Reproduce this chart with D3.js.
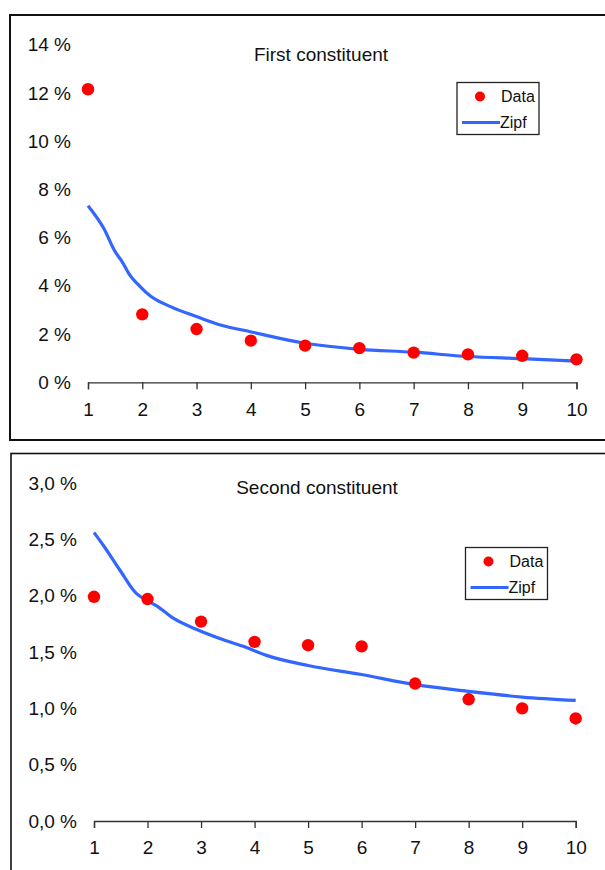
<!DOCTYPE html>
<html lang="en">
<head>
    <meta charset="UTF-8">
    <title>Zipf constituents</title>
    <script src="https://cdn.jsdelivr.net/npm/d3@7/dist/d3.min.js"></script>
    <style>
        body { margin: 0; background: #fff; }
        text { font-family: "Liberation Sans", Arial, sans-serif; fill: #111; }
    </style>
</head>
<body>
    <svg width="605" height="870" id="mainsvg"></svg>
    <script>
        // ranks on the x axis
        const ranks = [1, 2, 3, 4, 5, 6, 7, 8, 9, 10];

        // first constituent (%)
        const firstData = [12.16, 2.82, 2.21, 1.73, 1.52, 1.42, 1.23, 1.16, 1.10, 0.95];
        const firstZipfX = [1, 1.29, 1.5, 1.63, 1.75, 1.96, 2.15, 2.52, 3.01, 3.44, 3.99, 5, 6, 7, 8, 9, 10];
        const firstZipfY = [7.33, 6.39, 5.42, 5.00, 4.52, 3.97, 3.58, 3.14, 2.72, 2.38, 2.10, 1.62, 1.37, 1.25, 1.07, 0.98, 0.88];
        const firstYTicks = [0, 2, 4, 6, 8, 10, 12, 14];

        // second constituent (%)
        const secondData = [1.99, 1.97, 1.77, 1.59, 1.56, 1.55, 1.22, 1.08, 1.00, 0.91];
        const secondZipfX = [1, 1.17, 1.48, 1.79, 1.98, 2.17, 2.48, 2.92, 3.35, 3.79, 4.22, 5, 6, 7, 8, 9, 10];
        const secondZipfY = [2.56, 2.45, 2.23, 2.02, 1.96, 1.91, 1.80, 1.70, 1.62, 1.55, 1.47, 1.38, 1.30, 1.21, 1.15, 1.10, 1.07];
        const secondYTicks = [0, 0.5, 1, 1.5, 2, 2.5, 3];

        const svg = d3.select('#mainsvg');
        const red = '#ff0000';
        const blue = '#3366ff';

        function drawPanel(opt) {
            const g = svg.append('g');

            // frame (right and bottom edges run off the picture)
            g.append('rect')
                .attr('x', opt.frame[0]).attr('y', opt.frame[1])
                .attr('width', opt.frame[2]).attr('height', opt.frame[3])
                .attr('fill', 'none')
                .attr('stroke', '#111')
                .attr('stroke-width', opt.frameWidth);

            const x = d3.scaleLinear().domain([1, 10]).range(opt.xRange);
            const y = d3.scaleLinear().domain(opt.yDomain).range(opt.yRange);

            // x axis
            const xAxis = g.append('g')
                .attr('transform', `translate(0,${opt.yRange[0]})`)
                .call(d3.axisBottom(x).tickValues(ranks).tickSize(7).tickPadding(13).tickFormat(d3.format('d')));
            xAxis.select('.domain').attr('stroke', '#333').attr('stroke-width', 1.3);
            xAxis.selectAll('.tick line').attr('stroke', '#333').attr('stroke-width', 1.3);
            xAxis.selectAll('text')
                .attr('font-size', 19)
                .attr('font-family', '"Liberation Sans", Arial, sans-serif')
                .attr('fill', '#111');

            // y labels only, no axis line
            const yAxis = g.append('g')
                .attr('transform', `translate(${opt.yLabelX},0)`)
                .call(d3.axisLeft(y).tickValues(opt.yTicks).tickSize(0).tickPadding(0).tickFormat(opt.fmt));
            yAxis.select('.domain').remove();
            yAxis.selectAll('text')
                .attr('font-size', 19)
                .attr('font-family', '"Liberation Sans", Arial, sans-serif')
                .attr('fill', '#111');

            // title
            g.append('text')
                .attr('x', opt.title[1]).attr('y', opt.title[2])
                .attr('text-anchor', 'middle')
                .attr('dy', '0.35em')
                .attr('font-size', 19)
                .text(opt.title[0]);

            // zipf curve
            const line = d3.line()
                .x((d, i) => x(opt.zipfX[i]))
                .y(d => y(d))
                .curve(d3.curveMonotoneX);
            g.append('path')
                .datum(opt.zipfY)
                .attr('d', line)
                .attr('fill', 'none')
                .attr('stroke', blue)
                .attr('stroke-width', 3.2)
                .attr('stroke-linejoin', 'round');

            // data points
            g.selectAll('circle.pt').data(opt.data).join('circle')
                .attr('class', 'pt')
                .attr('cx', (d, i) => x(ranks[i]))
                .attr('cy', d => y(d))
                .attr('r', 6.2)
                .attr('fill', red);

            // legend
            const [lx, ly] = opt.legend;
            const lg = g.append('g').attr('transform', `translate(${lx},${ly})`);
            lg.append('rect')
                .attr('width', 82).attr('height', 52)
                .attr('fill', '#fff')
                .attr('stroke', '#222').attr('stroke-width', 1.3);
            lg.append('circle').attr('cx', 23).attr('cy', 14).attr('r', 5).attr('fill', red);
            lg.append('text').attr('x', 44).attr('y', 14).attr('dy', '0.35em')
                .attr('font-size', 16).text('Data');
            lg.append('line')
                .attr('x1', 5).attr('x2', 43)
                .attr('y1', 40).attr('y2', 40)
                .attr('stroke', blue).attr('stroke-width', 3.2);
            lg.append('text').attr('x', 43).attr('y', 40).attr('dy', '0.35em')
                .attr('font-size', 16).text('Zipf');
        }

        drawPanel({
            frame: [10, 15, 640, 425],
            frameWidth: 2,
            xRange: [88, 576.5],
            yDomain: [0, 14],
            yRange: [382.3, 44.9],
            yTicks: firstYTicks,
            yLabelX: 71,
            fmt: d => d + ' %',
            title: ['First constituent', 321, 54],
            zipfX: firstZipfX,
            zipfY: firstZipfY,
            data: firstData,
            legend: [457, 82.5]
        });

        drawPanel({
            frame: [11, 453.5, 640, 500],
            frameWidth: 1.6,
            xRange: [94, 575.7],
            yDomain: [0, 3],
            yRange: [821, 483],
            yTicks: secondYTicks,
            yLabelX: 77,
            fmt: d => d.toFixed(1).replace('.', ',') + ' %',
            title: ['Second constituent', 317, 487],
            zipfX: secondZipfX,
            zipfY: secondZipfY,
            data: secondData,
            legend: [465.5, 547.5]
        });
    </script>
</body>
</html>
